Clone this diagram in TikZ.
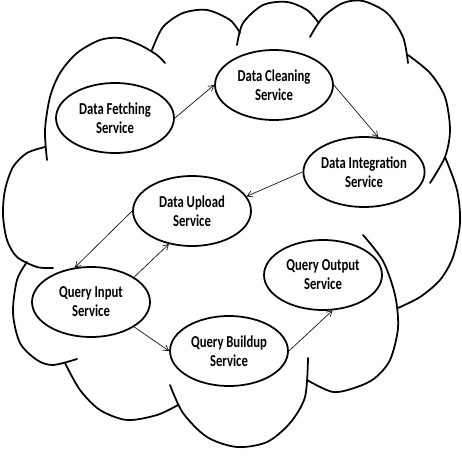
\documentclass[tikz,border=0pt]{standalone}
\usepackage{fontspec}
\setmainfont{Carlito}[FakeStretch=0.76]
\usetikzlibrary{shapes.geometric, arrows.meta}

\tikzset{
 service/.style={ellipse, draw, line width=1pt, minimum width=2.36cm, minimum height=1.4cm, inner sep=0pt, align=center, font=\fontsize{9.5}{10.8}\selectfont\bfseries},
 flow/.style={-{Straight Barb[length=3pt,width=3.5pt]}, line width=0.35pt},
 lobe/.style={line width=1pt, line cap=round}
}

\begin{document}
\begin{tikzpicture}[x=0.02cm, y=-0.02cm]
 \useasboundingbox (0,0) rectangle (462,456);

 %cloud:
 \draw[lobe] plot[smooth] coordinates {(47,160) (45,130) (50,97) (60,73) (77,53) (100,40) (120,38) (140,45) (157,55) (165,63)};
 \draw[lobe] plot[smooth] coordinates {(152,50) (163,27) (183,13) (207,10) (230,20) (240,33)};
 \draw[lobe] plot[smooth] coordinates {(237,45) (243,23) (263,5) (287,2) (307,10) (318,22)};
 \draw[lobe] plot[smooth] coordinates {(310,37) (323,17) (343,3) (363,1) (387,13) (403,37) (408,63)};
 \draw[lobe] plot[smooth] coordinates {(408,55) (430,73) (445,97) (450,130) (445,157) (430,183)};
 \draw[lobe] plot[smooth] coordinates {(445,157) (457,190) (460,223) (453,257) (440,280) (420,297) (398,308)};
 \draw[lobe] plot[smooth] coordinates {(363,235) (383,261) (395,295) (398,328) (390,360) (375,378) (357,387) (333,392) (307,380)};
 \draw[lobe] plot[smooth] coordinates {(308,358) (305,397) (290,423) (267,442) (237,447) (207,437) (183,413) (170,385)};
 \draw[lobe] plot[smooth] coordinates {(178,405) (157,415) (127,420) (100,410) (80,390) (65,363)};
 \draw[lobe] plot[smooth] coordinates {(27,262) (17,280) (13,313) (20,343) (37,360) (53,365) (77,359)};
 \draw[lobe] plot[smooth] coordinates {(45,147) (27,153) (13,167) (5,190) (3,215) (7,240) (17,257) (37,267) (53,268)};

 %services:
 \node[service] (fetch) at (115,118) {Data Fetching\\Service};
 \node[service] (clean) at (274,85) {Data Cleaning\\Service};
 \node[service] (integ) at (364,172) {Data Integration\\Service};
 \node[service] (upload) at (192,211) {Data Upload\\Service};
 \node[service] (qin) at (91,302) {Query Input\\Service};
 \node[service] (qbuild) at (229,351) {Query Buildup\\Service};
 \node[service] (qout) at (323,275) {Query Output\\Service};

 %arrows
 \draw[flow] (fetch.east) -- (clean.west);
 \draw[flow] (clean.east) -- (integ.68);
 \draw[flow] (integ.west) -- (upload.15);
 \draw[flow] (upload.west) -- (qin.115);
 \draw[flow] (qin.30) -- (upload.235);
 \draw[flow] (qin.-30) -- (qbuild.west);
 \draw[flow] (qbuild.east) -- (qout.285);
\end{tikzpicture}
\end{document}
